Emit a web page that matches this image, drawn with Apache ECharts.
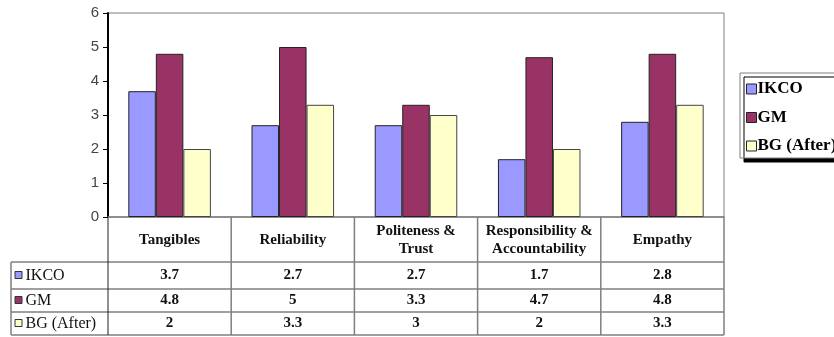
<!DOCTYPE html>
<html>
<head>
<meta charset="utf-8">
<script src="https://cdn.jsdelivr.net/npm/echarts@6/dist/echarts.min.js"></script>
<style>
  html, body { margin: 0; padding: 0; background: #fff; }
  #chart { width: 834px; height: 337px; }
</style>
</head>
<body>
<div id="chart"></div>
<script>
// Service-quality dimensions and scores per group
const categories = ['Tangibles', 'Reliability', 'Politeness &\nTrust', 'Responsibility &\nAccountability', 'Empathy'];
const seriesNames = ['IKCO', 'GM', 'BG (After)'];
const ikco = [3.7, 2.7, 2.7, 1.7, 2.8];
const gm = [4.8, 5, 3.3, 4.7, 4.8];
const bgAfter = [2, 3.3, 3, 2, 3.3];
const yMin = 0, yMax = 6, yStep = 1;

const seriesValues = [ikco, gm, bgAfter];
const seriesColors = ['#9999ff', '#993366', '#ffffcc'];
const lineGray = '#7f7f7f';
const serif = '"Liberation Serif", "Times New Roman", serif';

const chart = echarts.init(document.getElementById('chart'), null, { renderer: 'canvas' });

chart.setOption({
  animation: false,
  backgroundColor: '#fff',
  grid: {
    left: 108, top: 13, right: 110, bottom: 120,
    show: true, borderColor: lineGray, borderWidth: 1, backgroundColor: '#fff'
  },
  legend: {
    orient: 'vertical',
    left: 740, top: 73,
    icon: 'rect',
    itemWidth: 10, itemHeight: 10, itemGap: 10.5,
    padding: [7, 30, 3, 6],
    backgroundColor: '#fff',
    borderColor: lineGray, borderWidth: 1,
    shadowColor: '#000', shadowBlur: 0, shadowOffsetX: 4, shadowOffsetY: 4,
    itemStyle: { borderColor: '#222', borderWidth: 1 },
    textStyle: { fontFamily: serif, fontWeight: 'bold', fontSize: 17, color: '#000', lineHeight: 18, padding: [0, 0, 0, -4] },
    data: seriesNames
  },
  xAxis: {
    type: 'category',
    data: categories,
    axisLine: { lineStyle: { color: lineGray, width: 1.5 } },
    axisTick: { show: false },
    axisLabel: { show: false }
  },
  yAxis: {
    type: 'value',
    min: yMin, max: yMax, interval: yStep,
    axisLine: { show: true, lineStyle: { color: '#000', width: 2 } },
    axisTick: { show: true, length: 5, lineStyle: { color: '#000', width: 1 } },
    axisLabel: { fontFamily: '"Liberation Sans", Arial, sans-serif', fontSize: 15, color: '#444', margin: 9 },
    splitLine: { show: false }
  },
  series: seriesNames.map((name, i) => ({
    name: name,
    type: 'bar',
    data: seriesValues[i],
    barGap: '0%',
    barCategoryGap: '33%',
    itemStyle: { color: seriesColors[i], borderColor: i === 2 ? '#444' : '#222', borderWidth: 1 }
  }))
});

// Data table under the plot, aligned to the category axis
function buildTable() {
  const c0 = chart.convertToPixel({ gridIndex: 0 }, [0, yMin]);
  const c1 = chart.convertToPixel({ gridIndex: 0 }, [1, yMin]);
  const half = (c1[0] - c0[0]) / 2;
  const axisY = c0[1];
  const rowEdges = [axisY, 262, 289, 312, 335];
  const labelLeft = 11;
  const gfx = [];
  const n = categories.length;
  const edges = [];
  for (let i = 0; i < n; i++) {
    edges.push(chart.convertToPixel({ gridIndex: 0 }, [i, yMin])[0] - half);
  }
  edges.push(chart.convertToPixel({ gridIndex: 0 }, [n - 1, yMin])[0] + half);
  const right = edges[n];

  // horizontal rules
  for (let r = 1; r < rowEdges.length; r++) {
    gfx.push({ type: 'line', shape: { x1: labelLeft, y1: rowEdges[r], x2: right, y2: rowEdges[r] }, style: { stroke: lineGray, lineWidth: 1.5 } });
  }
  // vertical rules
  edges.forEach((x, k) => {
    gfx.push({ type: 'line', shape: { x1: x, y1: axisY, x2: x, y2: rowEdges[rowEdges.length - 1] },
      style: { stroke: k === 0 ? '#222' : lineGray, lineWidth: k === 0 ? 1 : 1.5 } });
  });
  gfx.push({ type: 'line', shape: { x1: labelLeft, y1: rowEdges[1], x2: labelLeft, y2: rowEdges[rowEdges.length - 1] }, style: { stroke: lineGray, lineWidth: 1.5 } });

  // header cells
  categories.forEach((cat, i) => {
    const cx = (edges[i] + edges[i + 1]) / 2;
    gfx.push({ type: 'text', style: {
      text: cat, x: cx, y: (rowEdges[0] + rowEdges[1]) / 2 + 1,
      align: 'center', verticalAlign: 'middle', textAlign: 'center', textVerticalAlign: 'middle',
      font: 'bold 15px ' + serif, fill: '#111', lineHeight: 18
    } });
  });

  // value rows with legend keys
  seriesNames.forEach((name, s) => {
    const cy = (rowEdges[s + 1] + rowEdges[s + 2]) / 2;
    gfx.push({ type: 'rect', shape: { x: 15, y: cy - 4, width: 7, height: 7 },
      style: { fill: seriesColors[s], stroke: '#333', lineWidth: 1 } });
    gfx.push({ type: 'text', style: {
      text: name, x: 25.5, y: cy,
      align: 'left', verticalAlign: 'middle', textAlign: 'left', textVerticalAlign: 'middle',
      font: '16px ' + serif, fill: '#111'
    } });
    seriesValues[s].forEach((v, i) => {
      const cx = (edges[i] + edges[i + 1]) / 2;
      gfx.push({ type: 'text', style: {
        text: String(v), x: cx, y: cy,
        align: 'center', verticalAlign: 'middle', textAlign: 'center', textVerticalAlign: 'middle',
        font: 'bold 15px ' + serif, fill: '#111'
      } });
    });
  });

  chart.setOption({ graphic: gfx });
}
buildTable();
</script>
</body>
</html>
